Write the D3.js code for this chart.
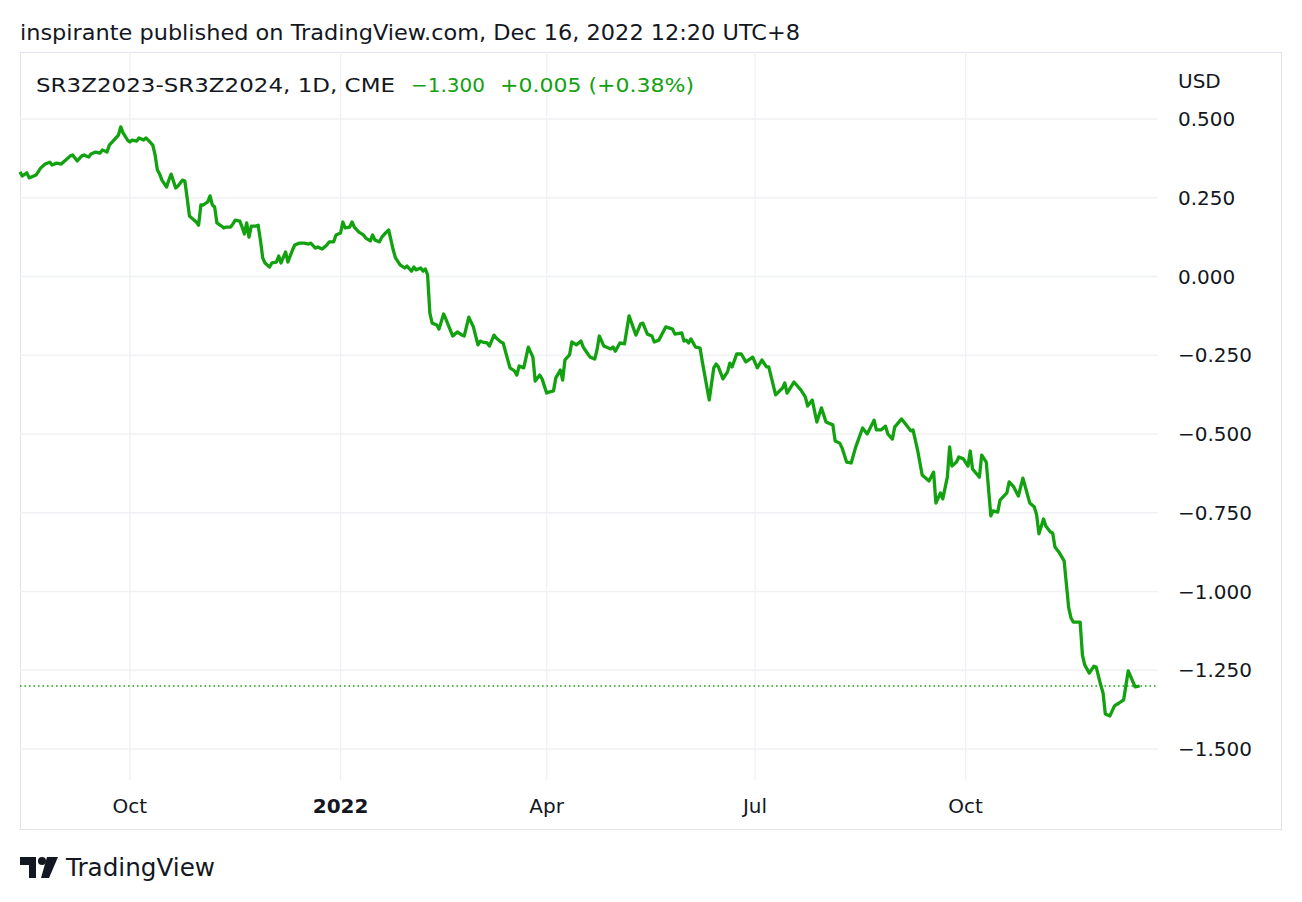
<!DOCTYPE html>
<html><head><meta charset="utf-8">
<script src="https://cdn.jsdelivr.net/npm/d3@7/dist/d3.min.js"></script>
<style>body{margin:0;background:#fff}svg{display:block;font-family:"DejaVu Sans",sans-serif}</style>
</head><body><svg id="c" width="1302" height="902"></svg>
<script>
const title = "inspirante published on TradingView.com, Dec 16, 2022 12:20 UTC+8";
const symbol = "SR3Z2023-SR3Z2024, 1D, CME";
const lastInfo = ["−1.300", "+0.005 (+0.38%)"];
const baseDate = "2021-10-01";
const yTicks = [0.5, 0.25, 0, -0.25, -0.5, -0.75, -1.0, -1.25, -1.5];
const xTicks = [["2021-10-01","Oct",false],["2022-01-01","2022",true],["2022-04-01","Apr",false],["2022-07-01","Jul",false],["2022-10-01","Oct",false]];
const lastValue = -1.300;
// [days from baseDate, spread value]
const spread = [[-48,.332],[-47,.319],[-45,.329],[-44,.313],[-41,.322],[-39,.344],[-37,.357],[-35,.363],[-34,.354],[-32,.360],[-30,.357],[-28,.370],[-26,.383],[-25,.386],[-24,.376],[-23,.367],[-21,.383],[-20,.386],[-18,.379],[-17,.389],[-15,.395],[-13,.392],[-12,.402],[-10,.395],[-9,.417],[-7,.433],[-5,.449],[-4,.475],[-3,.456],[-1,.433],[0,.427],[1,.433],[3,.430],[4,.440],[6,.433],[7,.440],[8,.433],[10,.417],[11,.386],[12,.338],[13,.325],[14,.306],[16,.284],[17,.306],[18,.325],[20,.281],[21,.287],[23,.306],[24,.303],[25,.249],[26,.192],[28,.179],[29,.173],[30,.163],[31,.227],[32,.227],[34,.237],[35,.256],[36,.227],[37,.221],[38,.170],[40,.160],[41,.154],[42,.157],[44,.157],[45,.167],[46,.179],[48,.176],[49,.157],[50,.135],[51,.170],[52,.125],[53,.160],[55,.160],[56,.163],[57,.116],[58,.059],[59,.043],[61,.030],[62,.043],[64,.046],[65,.065],[66,.043],[68,.078],[69,.046],[71,.084],[72,.100],[74,.106],[76,.106],[78,.103],[79,.106],[81,.090],[82,.094],[84,.087],[86,.100],[87,.110],[89,.110],[90,.132],[92,.138],[93,.173],[94,.154],[96,.157],[97,.173],[98,.157],[100,.141],[102,.132],[103,.122],[105,.113],[106,.132],[107,.116],[109,.110],[110,.125],[112,.141],[113,.148],[114,.116],[115,.084],[116,.059],[118,.037],[120,.027],[121,.033],[123,.017],[124,.030],[125,.021],[127,.027],[128,.017],[129,.024],[130,.005],[131,-.116],[132,-.148],[134,-.154],[135,-.167],[137,-.119],[138,-.135],[141,-.189],[143,-.176],[145,-.186],[146,-.189],[148,-.129],[150,-.160],[152,-.217],[153,-.205],[154,-.208],[156,-.211],[157,-.221],[159,-.186],[160,-.195],[162,-.208],[163,-.211],[166,-.290],[168,-.300],[169,-.313],[170,-.284],[172,-.290],[174,-.224],[176,-.256],[177,-.332],[179,-.313],[180,-.325],[182,-.370],[183,-.367],[185,-.363],[186,-.322],[188,-.297],[189,-.329],[190,-.265],[192,-.249],[193,-.208],[195,-.217],[197,-.205],[198,-.224],[200,-.246],[201,-.256],[203,-.262],[204,-.233],[205,-.189],[207,-.221],[208,-.224],[210,-.230],[211,-.224],[212,-.237],[214,-.211],[216,-.214],[218,-.125],[221,-.186],[223,-.151],[224,-.148],[226,-.183],[228,-.189],[229,-.208],[231,-.202],[234,-.160],[237,-.167],[238,-.183],[241,-.179],[242,-.205],[243,-.202],[244,-.211],[245,-.198],[247,-.224],[249,-.227],[250,-.271],[253,-.392],[255,-.290],[256,-.278],[257,-.287],[259,-.325],[261,-.303],[262,-.275],[263,-.287],[265,-.246],[267,-.246],[269,-.271],[272,-.256],[274,-.290],[276,-.265],[278,-.287],[279,-.287],[282,-.376],[285,-.354],[286,-.338],[287,-.370],[290,-.335],[293,-.360],[295,-.383],[296,-.411],[298,-.392],[300,-.462],[302,-.417],[304,-.462],[307,-.471],[308,-.522],[310,-.529],[311,-.544],[313,-.589],[315,-.592],[317,-.541],[320,-.481],[322,-.500],[325,-.456],[326,-.487],[328,-.487],[330,-.475],[331,-.500],[333,-.516],[334,-.478],[337,-.452],[339,-.471],[341,-.490],[342,-.487],[344,-.551],[346,-.630],[349,-.649],[351,-.621],[352,-.719],[354,-.687],[355,-.706],[357,-.637],[358,-.541],[359,-.602],[361,-.589],[362,-.573],[364,-.579],[366,-.602],[367,-.554],[368,-.611],[371,-.637],[372,-.567],[374,-.589],[376,-.760],[377,-.744],[379,-.748],[380,-.710],[383,-.687],[384,-.652],[386,-.668],[388,-.697],[390,-.640],[393,-.719],[395,-.732],[396,-.757],[397,-.817],[399,-.770],[400,-.792],[402,-.811],[403,-.814],[404,-.859],[406,-.878],[408,-.903],[410,-1.052],[411,-1.084],[412,-1.097],[415,-1.097],[416,-1.202],[417,-1.233],[419,-1.259],[421,-1.237],[422,-1.240],[424,-1.297],[425,-1.322],[426,-1.389],[428,-1.395],[430,-1.363],[432,-1.354],[434,-1.344],[436,-1.252],[439,-1.303],[441,-1.300]];

const svg = d3.select("#c");
const base = d3.timeParse("%Y-%m-%d")(baseDate);
const pts = spread.map(([d,v]) => ({date: d3.timeDay.offset(base, d), v}));
const L = 20, R = 1158, T = 52, B = 780;
const x = d3.scaleTime().domain([d3.timeDay.offset(base,-48), d3.timeDay.offset(base,449)]).range([L, R]);
const y = d3.scaleLinear().domain([0.5, -1.5]).range([119, 749]);
const green = "#12a10f", text = "#131722", grid = "#f0f1f4";

svg.append("text").attr("x",20).attr("y",40).attr("font-size",21).attr("textLength",780).attr("lengthAdjust","spacingAndGlyphs").attr("fill",text).text(title);
svg.append("rect").attr("x",20.5).attr("y",52.5).attr("width",1261).attr("height",777).attr("fill","none").attr("stroke","#e0e3eb");

const g = svg.append("g");
g.selectAll(".hg").data(yTicks).join("line").attr("x1",L).attr("x2",R).attr("y1",d=>y(d)).attr("y2",d=>y(d)).attr("stroke",grid).attr("stroke-width",1.3);
const pd = d3.timeParse("%Y-%m-%d");
g.selectAll(".vg").data(xTicks).join("line").attr("x1",d=>x(pd(d[0]))).attr("x2",d=>x(pd(d[0]))).attr("y1",T).attr("y2",B).attr("stroke",grid).attr("stroke-width",1.3);

g.append("line").attr("x1",L).attr("x2",R).attr("y1",y(lastValue)).attr("y2",y(lastValue)).attr("stroke",green).attr("stroke-width",1.5).attr("stroke-dasharray","1.5,3");

g.append("path").datum(pts).attr("fill","none").attr("stroke",green).attr("stroke-width",3.3).attr("stroke-linejoin","round")
 .attr("d", d3.line().x(d=>x(d.date)).y(d=>y(d.v)));

const fmt = v => (v<0?"−":"") + d3.format(".3f")(Math.abs(v));
svg.selectAll(".yl").data(yTicks).join("text").attr("x",1178).attr("y",d=>y(d)+7).attr("font-size",20).attr("fill",text).text(fmt);
svg.append("text").attr("x",1178).attr("y",88).attr("font-size",20).attr("fill",text).text("USD");
svg.selectAll(".xl").data(xTicks).join("text").attr("x",d=>x(pd(d[0]))).attr("y",813).attr("text-anchor","middle").attr("font-size",20)
 .attr("font-weight",d=>d[2]?"bold":"normal").attr("fill",text).text(d=>d[1]);

svg.append("text").attr("x",36).attr("y",92).attr("font-size",20).attr("fill",text).attr("textLength",359).attr("lengthAdjust","spacingAndGlyphs").text(symbol);
svg.append("text").attr("x",411).attr("y",92).attr("font-size",20).attr("fill",green).text(lastInfo[0]);
svg.append("text").attr("x",500).attr("y",92).attr("font-size",20).attr("fill",green).attr("textLength",194).attr("lengthAdjust","spacingAndGlyphs").text(lastInfo[1]);

const logo = svg.append("g").attr("fill",text);
logo.append("path").attr("d","M20 857h16v21h-7v-13h-9z");
logo.append("circle").attr("cx",42).attr("cy",861).attr("r",4);
logo.append("path").attr("d","M47 857h11l-9 21h-8z");
svg.append("text").attr("x",66).attr("y",876).attr("font-size",24).attr("fill",text).attr("textLength",149).attr("lengthAdjust","spacingAndGlyphs").text("TradingView");
</script></body></html>
